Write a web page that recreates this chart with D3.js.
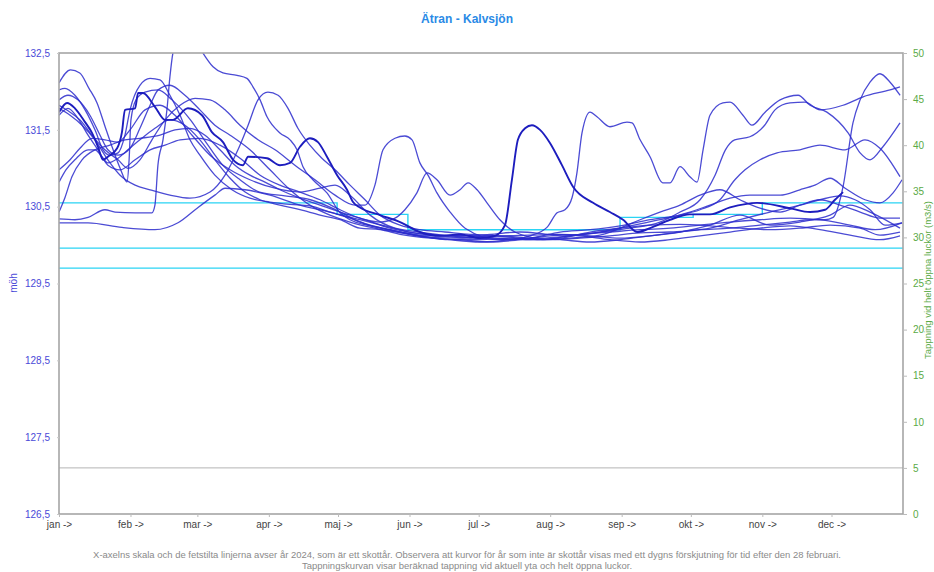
<!DOCTYPE html>
<html><head><meta charset="utf-8">
<script src="https://cdn.jsdelivr.net/npm/d3@7"></script>
<style>body{margin:0;background:#fff}svg{display:block}</style>
</head><body><svg id="c" width="934" height="572"></svg>
<script>
const chartTitle = "Ätran - Kalvsjön";
const leftAxisTitle = "möh";
const rightAxisTitle = "Tappning vid helt öppna luckor (m3/s)";
const footerLines = [
  "X-axelns skala och de fetstilta linjerna avser år 2024, som är ett skottår. Observera att kurvor för år som inte är skottår visas med ett dygns förskjutning för tid efter den 28 februari.",
  "Tappningskurvan visar beräknad tappning vid aktuell yta och helt öppna luckor."
];
const monthLabels = ["jan ->","feb ->","mar ->","apr ->","maj ->","jun ->","jul ->","aug ->","sep ->","okt ->","nov ->","dec ->"];
const monthStartDays = [0,31,60,91,121,152,182,213,244,274,305,335];
const leftTicks = [126.5,127.5,128.5,129.5,130.5,131.5,132.5];
const rightTicks = [0,5,10,15,20,25,30,35,40,45,50];
const limitLevels = [129.96, 129.70];
const stepDays = [0,120.6,151.3,243.3,275,305,366];
const stepLevels = [130.55,130.40,130.20,130.36,130.40,130.55];
const tappingFlow = [[0,5],[366,5]];

const s2024 = [[0,131.73],[3.5,131.85],[6.9,131.78],[11.3,131.60],[14.3,131.46],[16.9,131.28],[19.1,131.11],[21.2,131.15],[25.2,131.26],[27.3,131.47],[28.6,131.76],[33,131.78],[34.3,131.98],[36.4,131.98],[41.6,131.80],[46,131.63],[49.4,131.63],[55.9,131.78],[62,131.69],[66.3,131.47],[71.1,131.34],[75.5,131.11],[79.8,131.04],[82,131.15],[90.2,131.13],[95.8,131.04],[100.2,131.07],[104.5,131.28],[108.8,131.39],[112.3,131.34],[116.2,131.15],[120.6,130.91],[124.9,130.72],[127.5,130.56],[130.5,130.49],[139.2,130.39],[147.9,130.30],[156.5,130.17],[165.2,130.12],[173.9,130.14],[182.6,130.09],[189,130.12],[193.4,130.26],[196.4,130.85],[199,131.37],[202.1,131.52],[205.1,131.56],[208.6,131.50],[212.9,131.33],[218.1,131.04],[222.9,130.76],[231.6,130.55],[238.9,130.43],[244.6,130.33],[250.7,130.17],[256.3,130.22],[265,130.33],[273.6,130.40],[282.3,130.40],[291,130.49],[302.7,130.55],[317,130.48],[325.7,130.43],[332.2,130.46],[336.5,130.59],[340,130.69]];

const s01 = [[0,132.11],[5,132.28],[9,132.24],[13,132.04],[16.5,131.85],[20,131.54],[23,131.28],[26.5,131.00],[29.5,130.82],[30.4,131.11],[31.2,131.63],[33.4,131.89],[37.3,131.99],[43,132.02],[49,131.89],[57,131.63],[63,131.37],[71,131.04],[78.5,130.85],[87,130.69],[98,130.64],[109,130.59],[120,130.46],[130.5,130.30],[143.5,130.20],[156.5,130.12],[169.6,130.07],[182.6,130.07],[195.6,130.09],[208.6,130.07],[221.6,130.12],[234.6,130.17],[247.6,130.22],[260.6,130.30],[269.3,130.43],[278,130.59],[284.5,130.91],[289,131.24],[293,131.37],[299.6,131.41],[306,131.56],[310.5,131.76],[317,131.85],[323.5,131.86],[330,131.76],[340,131.82],[348.7,131.93],[360.4,132.02],[364.7,132.06]];

const s02 = [[0,132.02],[2.6,132.04],[6.9,131.95],[11.3,131.76],[15.6,131.50],[19.1,131.24],[22.1,131.17],[25.6,131.20],[28.6,131.43],[30.8,131.76],[35.1,132.08],[39.5,132.17],[43.8,132.15],[48.1,131.95],[52.5,131.69],[56.8,131.37],[61.1,131.17],[67.6,130.91],[75,130.72],[82.8,130.61],[91.5,130.56],[100.2,130.53],[108.8,130.51],[117.5,130.43],[126.2,130.35],[134.9,130.26],[143.5,130.20],[156.5,130.12],[169.6,130.07],[182.6,130.04],[195.6,130.07],[204.2,130.12],[211.6,130.23],[216,130.42],[219.4,130.46],[222.5,130.62],[224.6,130.94],[226.8,131.46],[230.3,131.73],[233.3,131.67],[238.9,131.54],[246.3,131.60],[248.5,131.59],[252,131.37],[256.3,131.15],[261.9,130.81],[265,130.81],[269.3,131.02],[273.6,130.89],[276.7,130.82],[279.3,131.24],[282.3,131.69],[287.9,131.85],[291,131.86],[296.6,131.69],[300.5,131.56],[306.2,131.73],[312.7,131.89],[320.5,131.95],[325.7,131.82],[333,131.73],[342.2,131.46],[347.4,131.20],[351.7,131.11],[357.3,131.28],[364.7,131.59]];

const s03 = [[0,131.89],[3.9,131.95],[8.2,131.89],[13.4,131.69],[17.8,131.43],[21.2,131.24],[25.6,131.17],[30.8,131.26],[35.1,131.52],[39.5,131.82],[43,132.02],[48.1,132.08],[54.6,131.95],[61.1,131.76],[67.6,131.56],[74.2,131.43],[82.8,131.24],[91.5,130.98],[100.2,130.72],[108.8,130.52],[117.5,130.39],[126.2,130.30],[137,130.22],[147.9,130.16],[160.9,130.10],[173.9,130.09],[186.9,130.12],[199.9,130.09],[212.9,130.07],[225.9,130.09],[238.9,130.12],[252,130.16],[265,130.17],[278,130.20],[291,130.22],[304,130.26],[317,130.30],[325.7,130.33],[332.2,130.33],[335.7,130.36],[340,130.76],[344.3,131.59],[347.4,131.89],[351.7,132.12],[356,132.23],[360.4,132.12],[364.7,131.95]];

const s04 = [[0,131.82],[4.8,131.73],[9.1,131.63],[14.3,131.43],[19.9,131.24],[25.6,131.11],[29.9,131.00],[35.1,131.11],[40.3,131.37],[46,131.63],[52.5,131.82],[59,131.91],[65.5,131.89],[72,131.76],[78.5,131.56],[86.3,131.37],[93.7,131.24],[102.3,131.04],[111,130.85],[119.7,130.65],[128.4,130.52],[132.7,130.52],[137,130.78],[140.5,131.24],[145.7,131.39],[150,131.42],[153.1,131.37],[156.5,131.07],[160,130.91],[163.9,130.68],[169.6,130.43],[176.1,130.22],[191.2,130.07],[204.2,130.09],[217.3,130.17],[230.3,130.20],[243.3,130.25],[256.3,130.33],[269.3,130.39],[278,130.46],[286.6,130.59],[293.1,130.85],[297.5,130.98],[304,131.11],[311.4,131.20],[321.3,131.24],[330,131.30],[340.9,131.24],[349.5,131.37],[356,131.26],[364.7,130.89]];

const s05 = [[0,131.69],[3.9,131.78],[8.2,131.65],[12.6,131.43],[16.9,131.24],[21.2,131.04],[26.5,130.98],[33,131.11],[39.5,131.24],[46,131.30],[52.5,131.37],[61.1,131.39],[69.8,131.30],[78.5,131.13],[87.2,130.91],[95.8,130.78],[104.5,130.69],[113.2,130.59],[121.9,130.46],[130.5,130.35],[139.2,130.30],[145.7,130.35],[150,130.46],[155.2,130.68],[159.6,130.94],[163.9,130.85],[169.6,130.65],[173.9,130.72],[177.4,130.81],[181.3,130.72],[185.6,130.55],[191.2,130.33],[197.7,130.17],[208.6,130.09],[221.6,130.12],[234.6,130.17],[247.6,130.25],[260.6,130.33],[273.6,130.43],[282.3,130.52],[291,130.61],[299.6,130.65],[312.7,130.65],[321.3,130.72],[327.8,130.78],[334.4,130.87],[340.9,130.74],[349.5,130.59],[356,130.55],[361.7,130.68],[365.6,130.85]];

const s06 = [[0,130.98],[4.8,131.11],[9.1,131.26],[14.3,131.39],[19.9,131.37],[25.6,131.34],[30.8,131.50],[37.3,131.76],[43.8,131.82],[50.3,131.69],[57.7,131.43],[65.5,131.17],[74.2,130.98],[82.8,130.85],[93.7,130.74],[104.5,130.69],[113.2,130.74],[119.7,130.78],[126.2,130.65],[134.9,130.39],[145.7,130.22],[156.5,130.17],[169.6,130.12],[182.6,130.09],[195.6,130.07],[208.6,130.07],[221.6,130.09],[234.6,130.13],[243.3,130.22],[252,130.33],[260.6,130.43],[269.3,130.52],[278,130.65],[286.6,130.72],[295.3,130.59],[304,130.48],[312.7,130.43],[321.3,130.52],[330,130.59],[338.7,130.52],[347.4,130.43],[356,130.35],[364.7,130.35]];

const s07 = [[0,130.82],[3,130.98],[6.9,131.11],[12.6,131.24],[15.6,131.24],[18.6,131.15],[21.2,131.07],[25.6,131.13],[29.9,131.24],[35.1,131.37],[41.6,131.52],[48.1,131.63],[54.6,131.56],[61.1,131.37],[67.6,131.11],[74.2,130.87],[80.7,130.69],[87.2,130.59],[95.8,130.52],[104.5,130.46],[113.2,130.39],[121.9,130.33],[130.5,130.22],[139.2,130.20],[147.9,130.14],[160.9,130.09],[173.9,130.07],[186.9,130.04],[199.9,130.07],[212.9,130.12],[225.9,130.14],[238.9,130.17],[252,130.20],[265,130.22],[278,130.26],[291,130.30],[304,130.33],[317,130.35],[330,130.33],[343,130.26],[353.9,130.20],[365.6,130.29]];

const s08 = [[0,130.43],[2.6,130.62],[5.6,130.89],[10,131.11],[15.6,131.24],[22.1,131.30],[28.6,131.37],[35.1,131.39],[43.8,131.43],[50.3,131.50],[56.8,131.52],[63.3,131.43],[69.8,131.24],[76.3,131.04],[82.8,130.91],[89.3,130.82],[95.8,130.72],[104.5,130.61],[113.2,130.52],[121.9,130.43],[132.7,130.33],[143.5,130.22],[151.8,130.17],[165.2,130.13],[178.2,130.12],[191.2,130.09],[204.2,130.07],[217.3,130.09],[230.3,130.17],[243.3,130.22],[256.3,130.26],[269.3,130.27],[282.3,130.25],[295.3,130.22],[308.3,130.20],[321.3,130.22],[334.4,130.26],[347.4,130.22],[356,130.13],[364.7,130.17]];

const s09 = [[0,130.34],[6.9,130.33],[12.6,130.36],[19.9,130.46],[24.3,130.43],[33,130.42],[40.3,130.42],[41.6,130.52],[42.9,131.04],[45.1,131.37],[46.8,131.76],[48.1,132.19],[49.4,132.50],[52.5,132.73],[56.8,132.80],[62.4,132.50],[66.8,132.32],[71.1,132.24],[77.2,132.21],[81.5,132.17],[84.1,132.06],[87.2,131.89],[90.2,131.67],[95.8,131.46],[100.2,131.37],[103.2,131.24],[105.8,131.02],[110.1,130.85],[116.2,130.68],[121.9,130.42],[126.2,130.33],[134.9,130.25],[147.9,130.17],[160.9,130.12],[173.9,130.12],[186.9,130.14],[199.9,130.17],[212.9,130.14],[225.9,130.12],[238.9,130.07],[252,130.04],[265,130.07],[278,130.12],[291,130.17],[304,130.22],[317,130.25],[330,130.20],[343,130.13],[356,130.07],[364.7,130.12]];

const s10 = [[0,130.29],[12.6,130.29],[27.3,130.23],[41.6,130.20],[51.6,130.29],[60.3,130.49],[67.6,130.65],[72,130.74],[80.7,130.72],[91.5,130.65],[104.5,130.52],[117.5,130.43],[130.5,130.33],[141.4,130.25],[151.8,130.17],[165.2,130.12],[178.2,130.09],[191.2,130.12],[204.2,130.09],[217.3,130.07],[230.3,130.04],[243.3,130.07],[256.3,130.12],[269.3,130.17],[282.3,130.22],[295.3,130.33],[308.3,130.43],[321.3,130.52],[330,130.59],[338.7,130.64],[345.2,130.59],[351.7,130.46],[358.2,130.26],[365.6,130.29]];

const s11 = [[0,131.78],[4.8,131.69],[10,131.56],[15.6,131.37],[21.2,131.11],[26.5,130.91],[33,130.78],[39.5,130.72],[48.1,130.65],[56.8,130.61],[65.5,130.69],[72,130.91],[77.6,131.24],[82,131.56],[86.3,131.89],[90.6,131.99],[95,131.95],[99.3,131.78],[103.6,131.52],[108.8,131.30],[114,131.13],[119.7,130.98],[126.2,130.78],[132.7,130.59],[139.2,130.39],[147.9,130.26],[156.5,130.20],[167.4,130.17],[178.2,130.14],[191.2,130.12],[204.2,130.13],[217.3,130.14],[230.3,130.12],[243.3,130.09],[256.3,130.12],[269.3,130.17],[282.3,130.26],[295.3,130.39],[308.3,130.26],[321.3,130.30],[334.4,130.39],[343,130.52],[351.7,130.43],[364.7,130.22]];

const thinSeries = [s01,s02,s03,s04,s05,s06,s07,s08,s09,s10,s11];

const M = {left:59, right:903, top:53, bottom:514};
const svg = d3.select("#c");
const x = d3.scaleLinear().domain([0,366]).range([M.left, M.right]);
const yL = d3.scaleLinear().domain([126.5,132.5]).range([M.bottom, M.top]);
const yR = d3.scaleLinear().domain([0,50]).range([M.bottom, M.top]);

const FONT = "'Liberation Sans', Arial, sans-serif";
const leftCol = "#4a4ad8", rightCol = "#5aaa46";

svg.append("defs").append("clipPath").attr("id","pc")
  .append("rect").attr("x",M.left).attr("y",M.top).attr("width",M.right-M.left).attr("height",M.bottom-M.top);

svg.append("text").attr("x",467).attr("y",23).attr("text-anchor","middle")
  .attr("font-family",FONT).attr("font-size",12).attr("font-weight","bold")
  .attr("fill","#2a8ae6").text(chartTitle);

const plot = svg.append("g").attr("clip-path","url(#pc)");

plot.append("path").datum(tappingFlow)
  .attr("d", d3.line().x(d=>x(d[0])).y(d=>yR(d[1])))
  .attr("fill","none").attr("stroke","#b4b4b4").attr("stroke-width",1);

limitLevels.forEach(v=>{
  plot.append("line").attr("x1",x(0)).attr("x2",x(366))
    .attr("y1",yL(v)).attr("y2",yL(v))
    .attr("stroke","#2ad4f4").attr("stroke-width",1.4);
});
const stepPts = [];
stepLevels.forEach((v,i)=>{ stepPts.push([stepDays[i],v]); stepPts.push([stepDays[i+1],v]); });
plot.append("path").datum(stepPts)
  .attr("d", d3.line().x(d=>x(d[0])).y(d=>yL(d[1])))
  .attr("fill","none").attr("stroke","#2ad4f4").attr("stroke-width",1.4);

const line = d3.line().x(d=>x(d[0])).y(d=>yL(d[1])).curve(d3.curveMonotoneX);
thinSeries.forEach(s=>{
  plot.append("path").datum(s).attr("d",line)
    .attr("fill","none").attr("stroke","#2b2bcc").attr("stroke-opacity",0.85)
    .attr("stroke-width",1.3).attr("stroke-linejoin","round");
});
plot.append("path").datum(s2024).attr("d",line)
  .attr("fill","none").attr("stroke","#1d1dbe").attr("stroke-width",1.9)
  .attr("stroke-linejoin","round");

svg.append("rect").attr("x",M.left).attr("y",M.top)
  .attr("width",M.right-M.left).attr("height",M.bottom-M.top)
  .attr("fill","none").attr("stroke","#a6a6a6").attr("stroke-width",1.6);

const gL = svg.append("g").attr("transform",`translate(${M.left},0)`)
  .call(d3.axisLeft(yL).tickValues(leftTicks).tickSize(2).tickPadding(7)
    .tickFormat(d=>d.toFixed(1).replace(".",",")));
gL.select(".domain").remove();
gL.selectAll("line").attr("stroke","#c8c8c8");
gL.selectAll("text").attr("font-family",FONT).attr("font-size",10).attr("fill",leftCol);

const gR = svg.append("g").attr("transform",`translate(${M.right},0)`)
  .call(d3.axisRight(yR).tickValues(rightTicks).tickSize(4).tickPadding(6));
gR.select(".domain").remove();
gR.selectAll("line").attr("stroke","#bbbbbb");
gR.selectAll("text").attr("font-family",FONT).attr("font-size",10).attr("fill",rightCol);

const gB = svg.append("g").attr("transform",`translate(0,${M.bottom})`)
  .call(d3.axisBottom(x).tickValues(monthStartDays).tickSize(3).tickPadding(4)
    .tickFormat((d,i)=>monthLabels[i]));
gB.select(".domain").remove();
gB.selectAll("line").attr("stroke","#bbbbbb");
gB.selectAll("text").attr("font-family",FONT).attr("font-size",10).attr("fill","#444");

svg.append("text").attr("transform","translate(17,283) rotate(-90)")
  .attr("text-anchor","middle").attr("font-family",FONT).attr("font-size",10)
  .attr("fill",leftCol).text(leftAxisTitle);
svg.append("text").attr("transform","translate(931,280) rotate(-90)")
  .attr("text-anchor","middle").attr("font-family",FONT).attr("font-size",9.5)
  .attr("fill",rightCol).text(rightAxisTitle);

const f1 = svg.append("text").attr("x",467).attr("y",558).attr("text-anchor","middle")
  .attr("font-family",FONT).attr("font-size",9).attr("fill","#8a8a8a").text(footerLines[0]);
const w1 = f1.node().getComputedTextLength();
const fs = 9*748/w1;
f1.attr("font-size",fs);
svg.append("text").attr("x",467).attr("y",569).attr("text-anchor","middle")
  .attr("font-family",FONT).attr("font-size",fs).attr("fill","#8a8a8a").text(footerLines[1]);
</script></body></html>
